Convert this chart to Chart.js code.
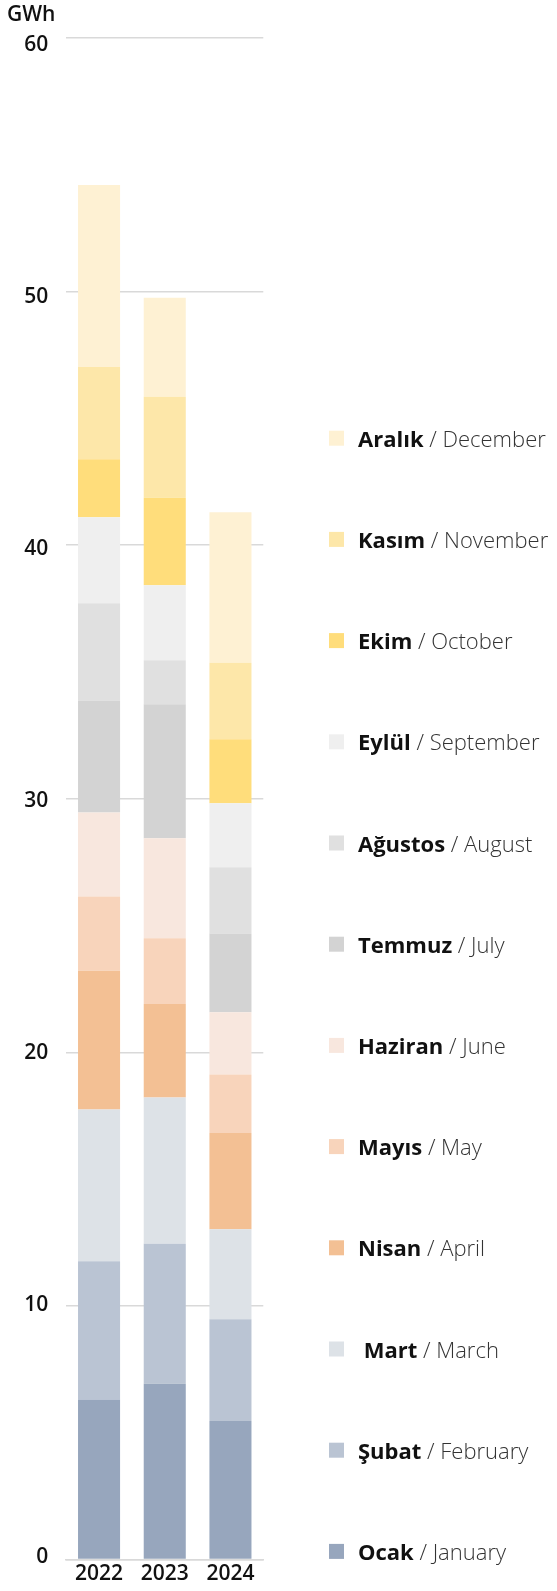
<!DOCTYPE html>
<html>
<head>
<meta charset="utf-8">
<script src="https://cdn.jsdelivr.net/npm/chart.js@4"></script>
<style>
  html, body { margin: 0; padding: 0; background: #ffffff; }
  canvas { display: block; }
</style>
</head>
<body>
<canvas id="c" width="557" height="1591"></canvas>
<script>
// ---- Data ----
const years = ['2022', '2023', '2024'];
const yTickValues = [0, 10, 20, 30, 40, 50, 60];
const unitLabel = 'GWh';

const monthsTR = ['Ocak', 'Şubat', ' Mart', 'Nisan', 'Mayıs', 'Haziran', 'Temmuz', 'Ağustos', 'Eylül', 'Ekim', 'Kasım', 'Aralık'];
const monthsEN = ['January', 'February', 'March', 'April', 'May', 'June', 'July', 'August', 'September', 'October', 'November', 'December'];

const ocak    = [6.31, 6.93, 5.46];
const subat   = [5.45, 5.52, 4.01];
const mart    = [5.99, 5.77, 3.55];
const nisan   = [5.47, 3.69, 3.80];
const mayis   = [2.93, 2.59, 2.31];
const haziran = [3.31, 3.94, 2.45];
const temmuz  = [4.41, 5.29, 3.11];
const agustos = [3.84, 1.73, 2.61];
const eylul   = [3.39, 2.96, 2.52];
const ekim    = [2.29, 3.45, 2.53];
const kasim   = [3.64, 3.98, 3.01];
const aralik  = [7.17, 3.91, 5.94];

const monthSeries = [ocak, subat, mart, nisan, mayis, haziran, temmuz, agustos, eylul, ekim, kasim, aralik];

// ---- Styles ----
const monthColors = ['#97a6bd', '#bac4d3', '#dde2e7', '#f3c094', '#f8d4bb', '#f8e7de',
                     '#d3d3d3', '#e0e0e0', '#efefef', '#ffdd7b', '#fde7a9', '#fef1d3'];
const FONT = 'Open Sans';

const datasets = monthSeries.map((vals, i) => ({
  label: monthsTR[i].trim() + ' / ' + monthsEN[i],
  data: vals,
  backgroundColor: monthColors[i],
  borderWidth: 0,
  categoryPercentage: 0.8,
  barPercentage: 0.8
}));

const extrasPlugin = {
  id: 'extras',
  afterDraw(chart) {
    const ctx = chart.ctx;
    ctx.save();
    // unit label
    ctx.fillStyle = '#111111';
    ctx.font = '600 21px "' + FONT + '"';
    ctx.textAlign = 'left';
    ctx.textBaseline = 'alphabetic';
    ctx.fillText(unitLabel, 7, 20.5);

    // custom legend, December at top
    const n = monthsTR.length;
    const top0 = 430.7, step = 101.2, sq = 15;
    for (let k = 0; k < n; k++) {
      const i = n - 1 - k;
      const y = top0 + k * step;
      ctx.fillStyle = monthColors[i];
      ctx.fillRect(329, y, sq, sq);
      const base = y + 16;
      ctx.fillStyle = '#111111';
      ctx.font = '700 22px "' + FONT + '"';
      ctx.fillText(monthsTR[i], 358, base);
      const w = ctx.measureText(monthsTR[i]).width;
      ctx.fillStyle = '#333333';
      ctx.font = '300 22px "' + FONT + '"';
      ctx.fillText(' / ' + monthsEN[i], 358 + w, base);
    }
    ctx.restore();
  }
};

new Chart(document.getElementById('c'), {
  type: 'bar',
  data: { labels: years, datasets },
  plugins: [extrasPlugin],
  options: {
    responsive: false,
    animation: false,
    devicePixelRatio: 1,
    layout: { padding: { top: 38, right: 293.7, bottom: 0, left: 0 } },
    plugins: { legend: { display: false }, tooltip: { enabled: false } },
    scales: {
      x: {
        stacked: true,
        grid: { display: false, drawTicks: false },
        border: { display: true, color: '#d9d9d9', width: 1.5 },
        ticks: { color: '#111111', font: { family: FONT, size: 21, weight: '600' }, padding: 2 },
        afterFit: s => { s.height = 31.5; }
      },
      y: {
        stacked: true,
        min: 0,
        max: 60,
        ticks: { display: false, stepSize: 10 },
        grid: { color: '#d9d9d9', lineWidth: 1.5, drawTicks: false },
        border: { display: false },
        afterFit: s => { s.width = 0; }
      },
      yl: {
        position: 'left',
        min: -0.103,
        max: 60.28,
        grid: { display: false, drawTicks: false },
        border: { display: false },
        ticks: { color: '#111111', font: { family: FONT, size: 21, weight: '600' }, padding: 18 },
        afterBuildTicks: s => { s.ticks = yTickValues.map(v => ({ value: v })); },
        afterFit: s => { s.width = 66.2; }
      }
    }
  }
});
</script>
</body>
</html>
